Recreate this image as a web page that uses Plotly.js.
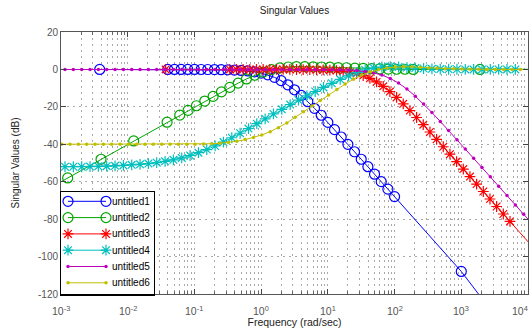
<!DOCTYPE html>
<html><head><meta charset="utf-8">
<script src="https://cdn.plot.ly/plotly-3.0.1.min.js"></script>
<style>html,body{margin:0;padding:0;background:#fff}#chart{width:530px;height:334px}</style>
</head><body><div id="chart"></div>
<script>
// ---- data (frequency in rad/s, singular values in dB) ----
const seriesNames = ['untitled1','untitled2','untitled3','untitled4','untitled5','untitled6'];

const freq1 = [0.0038, 0.03981, 0.05012, 0.0631, 0.07943, 0.1, 0.1259, 0.1585, 0.1995, 0.2512, 0.3162, 0.3981, 0.5012, 0.631, 0.7943, 1, 1.259, 1.585, 1.995, 2.512, 3.162, 3.981, 5.012, 6.31, 7.943, 10, 12.59, 15.85, 19.95, 25.12, 31.62, 39.81, 50.12, 63.1, 79.43, 100, 1000, 3981];
const db1 = [0, 0, -0.01, -0.01, -0.01, -0.02, -0.03, -0.05, -0.09, -0.14, -0.21, -0.34, -0.53, -0.82, -1.27, -1.94, -2.9, -4.23, -6.0, -8.22, -10.88, -13.91, -17.24, -20.79, -24.49, -28.3, -32.17, -36.1, -40.04, -44.0, -47.99, -51.97, -55.97, -59.96, -63.96, -67.96, -107.96, -136];

const freq2 = [0.000631, 0.001259, 0.003981, 0.0123, 0.0389, 0.06026, 0.08035, 0.1072, 0.1429, 0.1905, 0.2541, 0.3388, 0.4519, 0.6026, 0.8035, 1.072, 1.429, 1.905, 2.541, 3.388, 4.519, 6.026, 8.035, 10.72, 14.29, 19.05, 25.41, 33.88, 45.19, 60.26, 80.35, 107.2, 142.9, 190.5, 1905, 15849];
const db2 = [-64, -58.0, -48.0, -38.2, -28.2, -24.4, -21.9, -19.4, -16.9, -14.4, -12.0, -9.6, -7.3, -5.1, -3.1, -1.4, -0.1, 0.8, 1.3, 1.5, 1.5, 1.4, 1.3, 1.2, 1.0, 0.9, 0.7, 0.6, 0.4, 0.3, 0.2, 0.1, 0.1, 0.0, 0.0, 0.0];

const freq3 = [0.037, 0.3388, 0.4266, 0.537, 0.6761, 0.8511, 1.072, 1.349, 1.698, 2.138, 2.692, 3.388, 4.266, 5.37, 6.761, 8.511, 10.72, 13.49, 16.98, 21.38, 26.92, 33.88, 42.66, 53.7, 67.61, 85.11, 107.2, 134.9, 169.8, 213.8, 269.2, 338.8, 426.6, 537, 676.1, 851.1, 1072, 1349, 1698, 2138, 2692, 3388, 4266, 5370, 15849];
const db3 = [0, 0, 0, 0, 0, 0, 0, 0, 0, 0, 0, -0.04, -0.06, -0.1, -0.16, -0.25, -0.39, -0.61, -0.95, -1.46, -2.21, -3.28, -4.75, -6.66, -9.03, -11.82, -14.95, -18.36, -21.96, -25.7, -29.54, -33.43, -37.36, -41.31, -45.29, -49.26, -53.25, -57.25, -61.24, -65.24, -69.24, -73.24, -77.24, -81.24, -100.04];

const freq4 = [0.000631,
  0.001148, 0.001531, 0.002042, 0.002723, 0.003631, 0.004842, 0.006457, 0.00861,
  0.01148, 0.01531, 0.02042, 0.02723, 0.03631, 0.04842, 0.06457, 0.0861,
  0.1148, 0.1531, 0.2042, 0.2723, 0.3631, 0.4842, 0.6457, 0.861,
  1.148, 1.531, 2.042, 2.723, 3.631, 4.842, 6.457, 8.61,
  11.48, 15.31, 20.42, 27.23, 36.31, 48.42, 64.57, 86.1,
  114.8, 153.1, 204.2, 272.3, 363.1, 484.2, 645.7, 861,
  1148, 1531, 2042, 2723, 3631, 4842, 6457,
  15849];
const db4 = [-52.0,
  -52.0, -52.0, -52.0, -51.9, -51.8, -51.7, -51.5, -51.3,
  -51.0, -50.7, -50.3, -49.8, -49.1, -48.3, -47.3, -46.0,
  -44.5, -42.8, -40.9, -38.8, -36.5, -34.1, -31.6, -29.0,
  -26.4, -23.8, -21.3, -18.8, -16.4, -14.1, -11.8, -9.6,
  -7.4, -5.3, -3.4, -1.7, -0.3, 0.8, 1.3, 1.5,
  1.3, 1.0, 0.7, 0.5, 0.3, 0.2, 0.1, 0.1,
  0, 0, 0, 0, 0, 0, 0,
  0];

const freq5 = [0.000631,
  0.001148, 0.001531, 0.002042, 0.002723, 0.003631, 0.004842, 0.006457, 0.00861,
  0.01148, 0.01531, 0.02042, 0.02723, 0.03631, 0.04842, 0.06457, 0.0861,
  0.1148, 0.1531, 0.2042, 0.2723, 0.3631, 0.4842, 0.6457, 0.861,
  1.148, 1.531, 2.042, 2.723, 3.631, 4.842, 6.457, 8.61,
  11.48, 15.31, 20.42, 27.23, 36.31, 48.42, 64.57, 86.1,
  114.8, 153.1, 204.2, 272.3, 363.1, 484.2, 645.7, 861,
  1148, 1531, 2042, 2723, 3631, 4842, 6457, 8610,
  15849];
const db5 = [0,
  0, 0, 0, 0, 0, 0, 0, 0,
  0, 0, 0, 0, 0, 0, 0, 0,
  0, 0, 0, 0, 0, 0, 0, 0,
  0, 0, 0, 0, 0, 0, 0, -0.06,
  -0.11, -0.2, -0.35, -0.62, -1.07, -1.83, -3.03, -4.82,
  -7.3, -10.49, -14.27, -18.5, -23.03, -27.76, -32.61, -37.51,
  -42.46, -47.43, -52.42, -57.41, -62.4, -67.4, -72.4, -77.4,
  -88.0];

const freq6 = [0.000631,
  0.001023, 0.001365, 0.00182, 0.002427, 0.003236, 0.004315, 0.005754, 0.007674,
  0.01023, 0.01365, 0.0182, 0.02427, 0.03236, 0.04315, 0.05754, 0.07674,
  0.1023, 0.1365, 0.182, 0.2427, 0.3236, 0.4315, 0.5754, 0.7674,
  1.023, 1.365, 1.82, 2.427, 3.236, 4.315, 5.754, 7.674,
  10.23, 13.65, 18.2, 24.27, 32.36, 43.15, 57.54, 76.74,
  102.3, 136.5, 182, 242.7, 323.6, 431.5, 575.4, 767.4,
  1023, 1365, 1820, 2427, 3236, 4315, 5754, 7674,
  15849];
const db6 = [-40.0,
  -40.0, -40.0, -40.0, -40.0, -40.0, -40.0, -40.0, -40.0,
  -40.0, -40.0, -40.0, -40.0, -40.0, -40.0, -40.0, -40.0,
  -40.0, -39.9, -39.7, -39.4, -39.0, -38.4, -37.5, -36.4,
  -35.0, -33.3, -31.1, -28.6, -25.6, -22.6, -19.6, -16.6,
  -13.6, -10.7, -7.8, -5.2, -3.0, -1.3, -0.1, 0.8,
  1.3, 1.5, 1.4, 1.1, 0.8, 0.6, 0.4, 0.3,
  0.2, 0.1, 0.1, 0, 0, 0, 0, 0,
  0];

const xTickVals = [0.001, 0.01, 0.1, 1, 10, 100, 1000, 10000];
const xTickText = ['10<sup>-3</sup>','10<sup>-2</sup>','10<sup>-1</sup>','10<sup>0</sup>','10<sup>1</sup>','10<sup>2</sup>','10<sup>3</sup>','10<sup>4</sup>'];
const yTickVals = [-120, -100, -80, -60, -40, -20, 0, 20];
const yTickText = ['-120', '-100', '-80', '-60', '-40', '-20', '0', '20'];

// ---- styles ----
const FONT = 'Liberation Sans, Arial, Helvetica, sans-serif';
const styles = [
  {color: '#0000ff', symbol: 'circle-open', size: 10, lw: 1.2},
  {color: '#00a400', symbol: 'circle-open', size: 10, lw: 1.2},
  {color: '#ff0000', symbol: 'asterisk-open', size: 9, lw: 1.2},
  {color: '#00bfbf', symbol: 'asterisk-open', size: 9, lw: 1.2},
  {color: '#bf00bf', symbol: 'circle', size: 3.5, lw: 0},
  {color: '#bfbf00', symbol: 'circle', size: 3.5, lw: 0}
];
const freqs = [freq1, freq2, freq3, freq4, freq5, freq6];
const dbs = [db1, db2, db3, db4, db5, db6];

function markerOf(s) {
  return {symbol: s.symbol, size: s.size, color: s.color, line: {color: s.color, width: s.lw}};
}

const traces = [];
seriesNames.forEach((name, i) => {
  traces.push({
    type: 'scatter', mode: 'lines+markers', name: name,
    x: freqs[i], y: dbs[i], xaxis: 'x', yaxis: 'y',
    line: {color: styles[i].color, width: 1},
    marker: markerOf(styles[i]),
    showlegend: false, hoverinfo: 'skip'
  });
});

const annotations = [];
// frequency tick labels, placed on the log axis (annotation x is log10 on log axes)
xTickVals.forEach((v, i) => {
  const last = i === xTickVals.length - 1;
  annotations.push({
    xref: 'x', yref: 'paper', x: Math.log10(v), y: 0, yshift: -8,
    xanchor: last ? 'right' : 'center', xshift: last ? 2 : 0,
    text: xTickText[i], yanchor: 'top', showarrow: false,
    font: {family: FONT, size: 10.5, color: '#555'}
  });
});

// hand-made MATLAB-style legend in an inset subplot (pixel units)
const LW = 92.5, LH = 102;
seriesNames.forEach((name, i) => {
  const yc = LH - 9.3 - i * 16.3;
  traces.push({
    type: 'scatter', mode: 'lines+markers',
    x: [7, 45], y: [yc, yc], xaxis: 'x2', yaxis: 'y2',
    line: {color: styles[i].color, width: 1},
    marker: markerOf(styles[i]),
    showlegend: false, hoverinfo: 'skip', cliponaxis: false
  });
  annotations.push({
    xref: 'x2', yref: 'y2', x: 49, y: yc, text: name,
    xanchor: 'left', yanchor: 'middle', showarrow: false,
    font: {family: FONT, size: 10, color: '#000'}
  });
});

const PW = 467, PH = 262;
const gridDash = '2px,4px';
const layout = {
  width: 530, height: 334,
  margin: {l: 61, r: 2, t: 32, b: 40},
  paper_bgcolor: '#fff', plot_bgcolor: '#fff',
  showlegend: false,
  font: {family: FONT, size: 10, color: '#222'},
  title: {text: 'Singular Values', font: {family: FONT, size: 10, color: '#222'},
          x: 0.5, xref: 'paper', y: 1 - 10 / 334, yref: 'container', yanchor: 'middle'},
  xaxis: {
    type: 'log', range: [-3, 4], domain: [0, 1], anchor: 'y',
    tickmode: 'array', tickvals: xTickVals, ticktext: xTickText, showticklabels: false,
    ticks: 'inside', ticklen: 5, tickcolor: '#444', tickwidth: 1,
    showline: true, linecolor: '#555', linewidth: 1, mirror: 'ticks',
    showgrid: true, gridcolor: '#a8a8a8', gridwidth: 1, griddash: gridDash,
    zeroline: false,
    minor: {dtick: 'D1', ticks: 'inside', ticklen: 3, tickcolor: '#666',
            showgrid: true, gridcolor: '#a8a8a8', gridwidth: 1, griddash: gridDash},
    title: {text: 'Frequency (rad/sec)', font: {family: FONT, size: 10.5, color: '#222'}, standoff: 24}
  },
  yaxis: {
    range: [-120, 20], domain: [0, 1], anchor: 'x',
    tickmode: 'array', tickvals: yTickVals, ticktext: yTickText,
    ticks: 'inside', ticklen: 5, tickcolor: '#444', tickwidth: 1,
    showline: true, linecolor: '#555', linewidth: 1, mirror: 'ticks',
    showgrid: true, gridcolor: '#a8a8a8', gridwidth: 1, griddash: gridDash,
    zeroline: false,
    tickfont: {family: FONT, size: 10, color: '#555'},
    title: {text: 'Singular Values (dB)', font: {family: FONT, size: 10, color: '#222'}, standoff: 16}
  },
  xaxis2: {
    domain: [0, LW / PW], range: [0, LW], anchor: 'y2',
    showgrid: false, zeroline: false, showticklabels: false, ticks: '',
    showline: true, mirror: true, linecolor: '#000', linewidth: 1.5, fixedrange: true
  },
  yaxis2: {
    domain: [0, LH / PH], range: [0, LH], anchor: 'x2',
    showgrid: false, zeroline: false, showticklabels: false, ticks: '',
    showline: true, mirror: true, linecolor: '#000', linewidth: 1.5, fixedrange: true
  },
  annotations: annotations
};

Plotly.newPlot('chart', traces, layout, {displayModeBar: false, staticPlot: true});
</script>
</body></html>
